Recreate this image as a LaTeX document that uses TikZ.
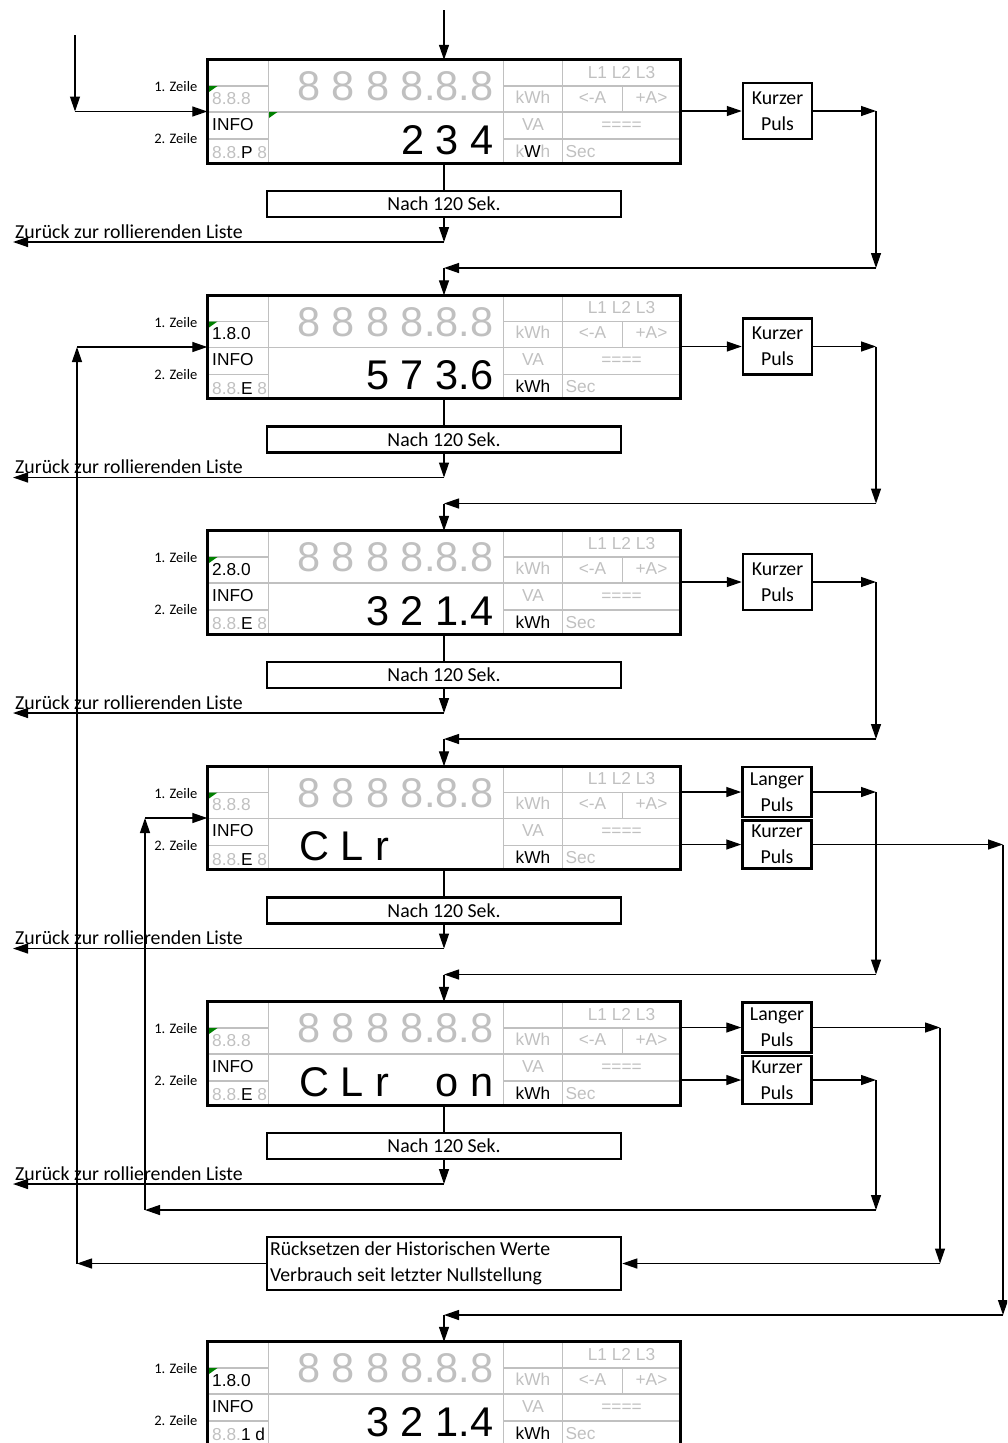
\documentclass[tikz,border=0pt]{standalone}
\usepackage{fontspec}
\setmainfont{Carlito}
\newfontfamily\arialfont{Liberation Sans}
\usetikzlibrary{arrows.meta,positioning}
\definecolor{segaus}{RGB}{192,192,192}
\definecolor{ledgruen}{RGB}{0,128,0}
\newcommand{\aus}[1]{\textcolor{segaus}{#1}}
\newcommand{\segklein}{\arialfont\fontsize{17.3}{20}\selectfont}
\newcommand{\seggross}{\arialfont\fontsize{41.5}{45}\selectfont}
\newcommand{\zeilefont}{\fontsize{14.5}{17}\selectfont}
\newcommand{\beschrfont}{\fontsize{19.8}{26}\selectfont}
% #1 Name, #2 Oberkante, #3 Zeile 1 links, #4 Zeile 2 links, #5 Wert, #6 Einheit
\newcommand{\anzeige}[6]{%
  \node[anzeigebox] (#1) at (444,#2+51.5) {};
  \begin{scope}[shift={(207.5,#2)}]
    \draw[raster] (61,0)--(61,103) (296,0)--(296,103) (355,0)--(355,103) (415,26)--(415,52)
      (0,26)--(61,26) (0,52)--(473,52) (0,79)--(61,79) (296,26)--(473,26) (296,79)--(473,79);
    \fill[ledgruen] (1.5,26)--(10,26)--(1.5,32)--cycle;
    \node[zeile, anchor=east] (#1-z1) at (-10,27) {1. Zeile};
    \node[zeile, anchor=east] (#1-z2) at (-10,79) {2. Zeile};
    \node[seg, anchor=base east] (#1-acht) at (286,40.7) {\seggross\aus{8 8 8 8.8.8}};
    \node[seg, anchor=base east] (#1-wert) at (286,94) {\seggross #5};
    \node[seg, anchor=base west] (#1-obis) at (4.5,44) {\segklein #3};
    \node[seg, anchor=base west] (#1-info) at (4.5,70) {\segklein INFO};
    \node[seg, anchor=base west] (#1-tarif) at (4.5,98.5) {\segklein #4};
    \node[seg, anchor=base] (#1-phase) at (414,18) {\segklein\aus{L1 L2 L3}};
    \node[seg, anchor=base] (#1-kwh) at (325.5,43) {\segklein\aus{kWh}};
    \node[seg, anchor=base] (#1-bez) at (385,43) {\segklein\aus{<-A}};
    \node[seg, anchor=base] (#1-lief) at (444,43) {\segklein\aus{+A>}};
    \node[seg, anchor=base] (#1-va) at (325.5,70) {\segklein\aus{VA}};
    \node[seg, anchor=base] (#1-balken) at (414,70) {\segklein\aus{====}};
    \node[seg, anchor=base] (#1-einheit) at (325.5,97) {\segklein #6};
    \node[seg, anchor=base west] (#1-sec) at (358,97) {\segklein\aus{Sec}};
  \end{scope}
  \draw[rahmen] (#1.north west) rectangle (#1.south east);
}

\begin{document}
\begin{tikzpicture}[x=1pt, y=-1pt, line join=miter,
  pfeil/.style={-{Triangle[length=15pt,width=10pt]}, line width=1.3pt},
  raster/.style={draw=segaus, line width=1.5pt},
  rahmen/.style={line width=3pt},
  anzeigebox/.style={minimum width=473, minimum height=103, inner sep=0},
  seg/.style={inner sep=0},
  zeile/.style={inner sep=0, font=\zeilefont},
  hinweis/.style={draw, line width=2.5pt, minimum width=354, minimum height=26, inner sep=0, font=\beschrfont},
  puls/.style={draw, line width=2.5pt, minimum width=69, minimum height=56, inner sep=0, align=center, font=\beschrfont}]
\useasboundingbox (0,0) rectangle (1007,1443);
\clip (0,0) rectangle (1007,1443);

\anzeige{d1}{60}{\aus{8.8.8}}{\aus{8.8.}P\aus{\ 8}}{2 3 4}{\aus{k}W\aus{h}}
\anzeige{d2}{295.5}{1.8.0}{\aus{8.8.}E\aus{\ 8}}{5 7 3.6}{kWh}
\anzeige{d3}{531}{2.8.0}{\aus{8.8.}E\aus{\ 8}}{3 2 1.4}{kWh}
\anzeige{d4}{766.5}{\aus{8.8.8}}{\aus{8.8.}E\aus{\ 8}}{\makebox[194pt][l]{C L r}}{kWh}
\anzeige{d5}{1002}{\aus{8.8.8}}{\aus{8.8.}E\aus{\ 8}}{\makebox[194pt][l]{C L r\hfill o n}}{kWh}
\anzeige{d6}{1342}{1.8.0}{\aus{8.8.}1 d}{3 2 1.4}{kWh}
\fill[ledgruen] (269,112)--(277.5,112)--(269,118)--cycle;

\node[puls] (k1) at (777.5,111) {Kurzer\\Puls};
\node[puls] (k2) at (777.5,346.5) {Kurzer\\Puls};
\node[puls] (k3) at (777.5,582) {Kurzer\\Puls};
\node[puls, minimum height=50] (l4) at (777,792) {Langer\\Puls};
\node[puls, minimum height=48] (k4) at (777,844.5) {Kurzer\\Puls};
\node[puls, minimum height=50] (l5) at (777,1027.5) {Langer\\Puls};
\node[puls, minimum height=48] (k5) at (777,1080) {Kurzer\\Puls};
\node[hinweis, minimum height=53, text width=348, inner xsep=3, align=flush left] (rs) at (444,1263.5)
  {Rücksetzen der Historischen Werte\\Verbrauch seit letzter Nullstellung};

\path
(444,10) coordinate (oben)
(75,35) coordinate (links)
(876,0) coordinate (s1)
(940,0) coordinate (s2)
(1003,0) coordinate (s3)
(145,0) coordinate (s4)
(77,0) coordinate (s5);

% Einstieg
\draw[pfeil] (oben) -- (d1.north);
\coordinate (links2) at (links |- d1.west);
\draw[pfeil] (links) -- (links2);
\draw[pfeil] (links2) -- (d1.west);

% Nach 120 Sek.
\foreach \yo [count=\i] in {60,295.5,531,766.5,1002} {
  \node[hinweis] (n\i) at (444,\yo+144) {Nach 120 Sek.};
  \draw[line width=1.3pt] (d\i.south) -- (n\i.north);
  \path (444,\yo+182) coordinate (z\i) (13,\yo+182) coordinate (zl\i);
  \draw[pfeil] (n\i.south) -- (z\i);
  \draw[pfeil] (z\i) -- (zl\i);
  \node[inner sep=0, anchor=base west, font=\beschrfont] (zt\i) at (15,\yo+178) {Zurück zur rollierenden Liste};
}

% Weiterschalten
\foreach \i/\j/\kasten/\yq in {1/2/k1/268, 2/3/k2/503.5, 3/4/k3/739, 4/5/l4/974.5} {
  \draw[pfeil] (d\i.east |- \kasten.west) -- (\kasten.west);
  \path (\kasten.east -| s1) coordinate (a\i) (876,\yq) coordinate (b\i) (444,\yq) coordinate (c\i);
  \draw[pfeil] (\kasten.east) -- (a\i);
  \draw[pfeil] (a\i) -- (b\i);
  \draw[pfeil] (b\i) -- (c\i);
  \draw[pfeil] (c\i) -- (d\j.north);
}
\draw[pfeil] (d4.east |- k4.west) -- (k4.west);
\draw[pfeil] (d5.east |- l5.west) -- (l5.west);
\draw[pfeil] (d5.east |- k5.west) -- (k5.west);

% CLr: kurz -> Anzeige unten
\path (k4.east -| s3) coordinate (a6) (1003,1315) coordinate (b6) (444,1315) coordinate (c6);
\draw[pfeil] (k4.east) -- (a6);
\draw[pfeil] (a6) -- (b6);
\draw[pfeil] (b6) -- (c6);
\draw[pfeil] (c6) -- (d6.north);

% CLr on: lang -> Ruecksetzen
\path (l5.east -| s2) coordinate (a7) (s2 |- rs.east) coordinate (b7);
\draw[pfeil] (l5.east) -- (a7);
\draw[pfeil] (a7) -- (b7);
\draw[pfeil] (b7) -- (rs.east);

% CLr on: kurz -> zurueck zu CLr
\path (k5.east -| s1) coordinate (a8) (876,1210) coordinate (b8) (145,1210) coordinate (c8) (s4 |- d4.west) coordinate (e8);
\draw[pfeil] (k5.east) -- (a8);
\draw[pfeil] (a8) -- (b8);
\draw[pfeil] (b8) -- (c8);
\draw[pfeil] (c8) -- (e8);
\draw[pfeil] (e8) -- (d4.west);

% Ruecksetzen -> 1.8.0
\path (s5 |- rs.west) coordinate (a9) (s5 |- d2.west) coordinate (b9);
\draw[pfeil] (rs.west) -- (a9);
\draw[pfeil] (a9) -- (b9);
\draw[pfeil] (b9) -- (d2.west);
\end{tikzpicture}
\end{document}
